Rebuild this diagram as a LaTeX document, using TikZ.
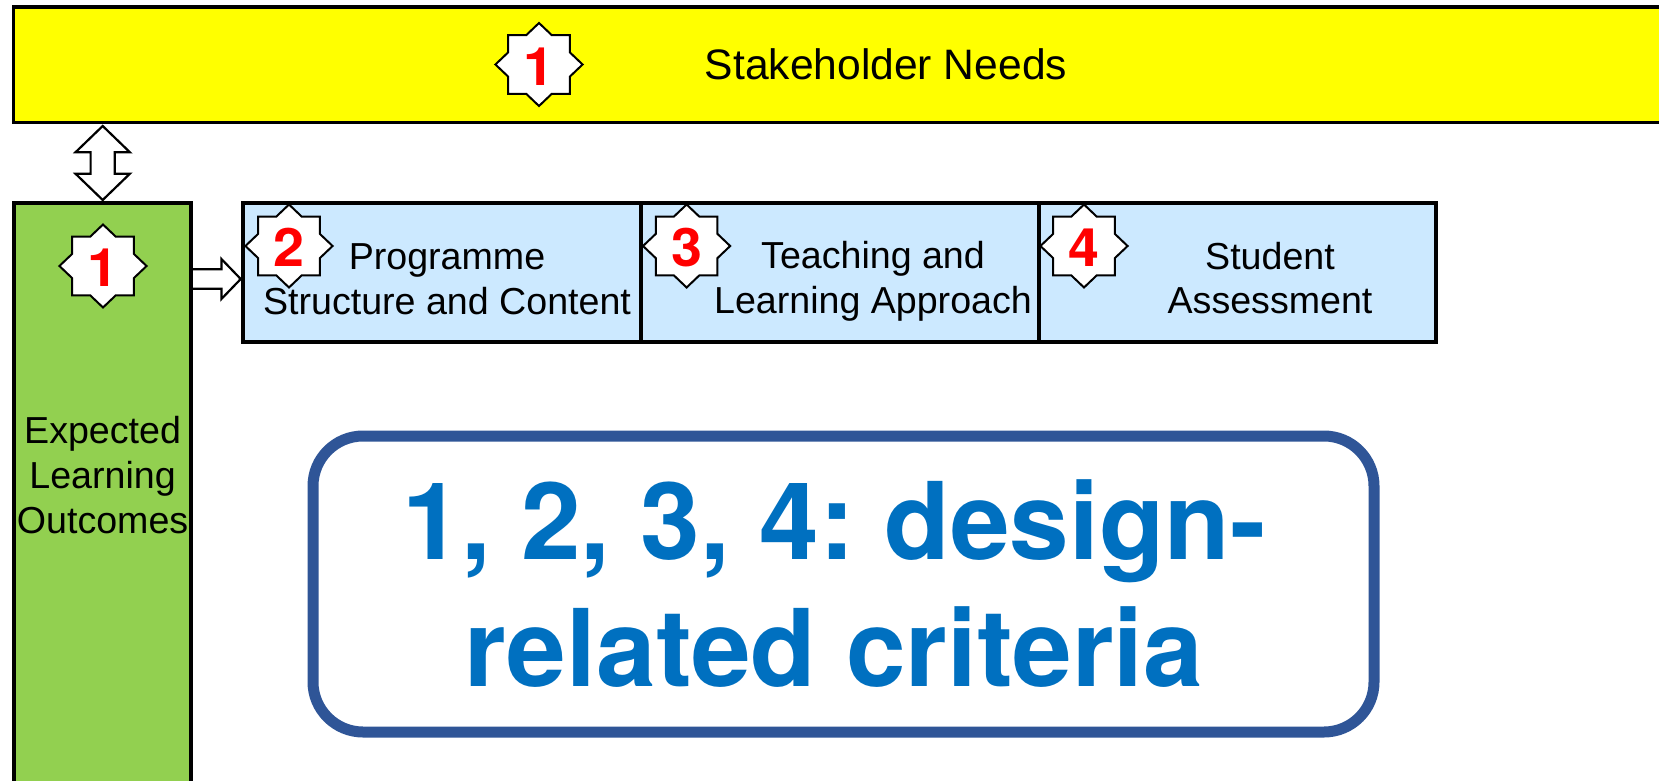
\documentclass[tikz,border=0pt]{standalone}
\usepackage{fontspec}
\setmainfont{Liberation Sans}
\newfontfamily\heavyfont{TeX Gyre Heros}
\usetikzlibrary{shapes.geometric,shapes.arrows}
\definecolor{boxyellow}{HTML}{FFFF00}
\definecolor{boxgreen}{HTML}{92D050}
\definecolor{boxblue}{HTML}{CCE9FF}
\definecolor{frameblue}{HTML}{2F5597}
\definecolor{titleblue}{HTML}{0070C0}
\tikzset{
  x=1pt,y=-1pt,
  area/.style={draw=black,line width=3.5pt,inner sep=0pt,outer sep=0pt},
  lbl/.style={font=\fontsize{37.6}{44.6}\selectfont\frenchspacing,align=center,inner sep=0pt,text=black},
  badge/.style={star,star points=8,star point ratio=1.307,draw=black,fill=white,line width=2pt,
    inner sep=0pt,minimum size=83pt,text=red,text height=41.5pt,text depth=0pt,font=\heavyfont\fontsize{53}{53}\selectfont\bfseries,xscale=1.05,transform shape},
  blockarrow/.style={draw=black,fill=white,line width=2.2pt,inner xsep=0pt,outer sep=0pt},
}
\begin{document}
\begin{tikzpicture}
\useasboundingbox (0,0) rectangle (1659,781);
\clip (0,0) rectangle (1659,781);
\node[area,fill=boxyellow,minimum width=1700pt,minimum height=115.5pt,anchor=north west] (needs) at (13.5,7) {};
\node[area,fill=boxgreen,minimum width=177pt,minimum height=640pt,anchor=north west] (elo) at (14,203) {};
\node[area,fill=boxblue,minimum width=398pt,minimum height=139pt,anchor=north west] (prog) at (243,203) {};
\node[area,fill=boxblue,minimum width=398pt,minimum height=139pt,anchor=north west] (teach) at (641,203) {};
\node[area,fill=boxblue,minimum width=397pt,minimum height=139pt,anchor=north west] (assess) at (1039,203) {};
\node[lbl,font=\fontsize{42.6}{44.6}\selectfont] (needstxt) at (886,64) {Stakeholder Needs};
\node[lbl] (elotxt) at (102.6,475) {Expected\\Learning\\Outcomes};
\node[lbl] (progtxt) at (447,279) {Programme\\Structure and Content};
\node[lbl] (teachtxt) at (873,281) {Teaching and\\Learning Approach};
\node[lbl] (assesstxt) at (1270,278) {Student\\Assessment};
\node[badge] (s1) at (539,64.5) {1};
\node[badge] (s1b) at (103,266) {1};
\node[badge] (s2) at (289,246) {2};
\node[badge] (s3) at (686.6,246) {3};
\node[badge] (s4) at (1084,246) {4};
\node[blockarrow,double arrow,rotate=90,minimum height=74pt,inner ysep=11pt,double arrow head extend=15pt,double arrow tip angle=92] (link) at (102.7,163) {};
\node[blockarrow,single arrow,minimum height=49pt,inner ysep=8.7pt,single arrow head extend=10.2pt,single arrow tip angle=92] (flow) at (211.5,279) {};
\node[draw=frameblue,line width=11pt,rounded corners=50pt,fill=white,minimum width=1061pt,minimum height=296pt,inner sep=0pt,outer sep=0pt,anchor=north west] (frame) at (313,436) {};
\node[font=\heavyfont\fontsize{107.2}{127}\selectfont\bfseries\frenchspacing,text=titleblue,align=center,inner sep=0pt] (title) at (834,583.5) {1, 2, 3, 4: design-\\related criteria};
\end{tikzpicture}
\end{document}
